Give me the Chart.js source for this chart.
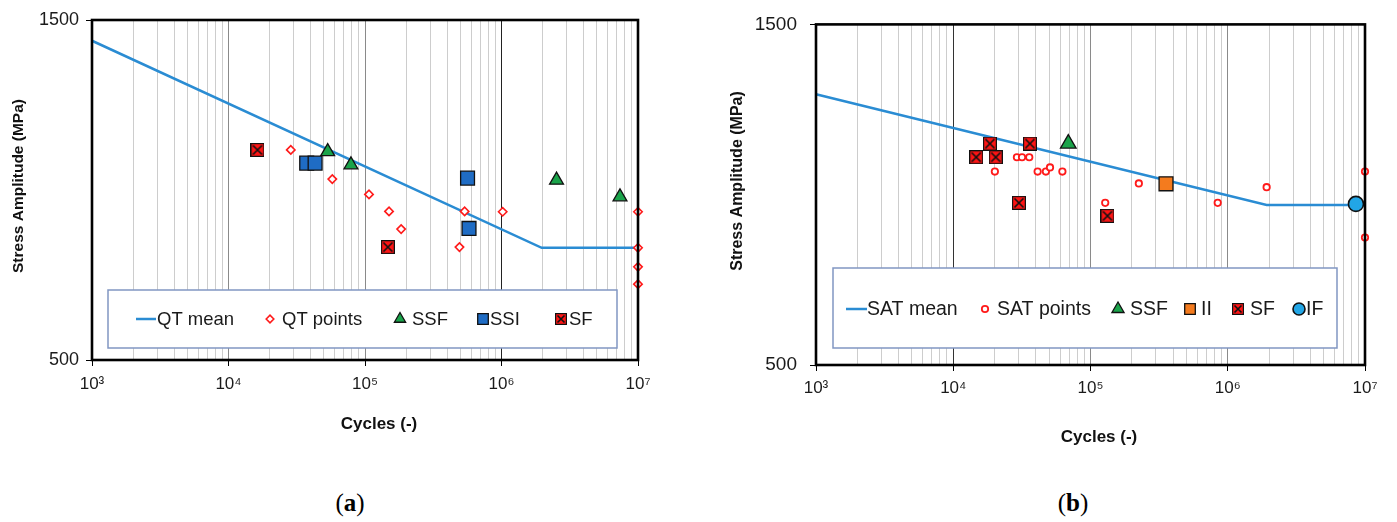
<!DOCTYPE html>
<html><head><meta charset="utf-8">
<script src="https://cdn.jsdelivr.net/npm/chart.js@4.4.1/dist/chart.umd.min.js"></script>
<style>
html,body{margin:0;padding:0;background:#fff;width:1397px;height:522px;overflow:hidden;}
#ca{position:absolute;left:0;top:0;}
#cb{position:absolute;left:700px;top:0;}
.cap{position:absolute;top:488px;font-family:"Liberation Serif","DejaVu Serif",serif;font-size:25px;color:#000;transform:translateX(-50%);line-height:30px;}
</style></head><body>
<canvas id="ca" width="700" height="470"></canvas>
<canvas id="cb" width="697" height="470"></canvas>
<div class="cap" style="left:350px">(<b>a</b>)</div>
<div class="cap" style="left:1073px">(<b>b</b>)</div>
<script>
// ---------- data ----------
const xTickLabels = ['10³', '10⁴', '10⁵', '10⁶', '10⁷'];
const yTickValues = [500, 1500];
const yTickLabels = ['500', '1500'];

// Panel (a) QT
const qtMeanN = [1000, 1970000, 10000000];
const qtMeanS = [1439, 830, 830];
const qtPointsN = [28600, 57600, 107000, 150000, 184000, 492000, 537000, 1020000, 10000000, 10000000, 10000000, 10000000];
const qtPointsS = [1118, 1032, 987, 937, 885, 832, 937, 936, 936, 830, 774, 723];
const qtSsfN = [53300, 78900, 2530000, 7380000];
const qtSsfS = [1113, 1074, 1029, 980];
const qtSsiN = [37400, 43100, 564000, 578000];
const qtSsiS = [1079, 1079, 1035, 887];
const qtSfN = [16300, 147000];
const qtSfS = [1118, 832];

// Panel (b) SAT
const satMeanN = [1000, 1920000, 10000000];
const satMeanS = [1295, 970, 970];
const satPointsN = [20100, 29100, 31700, 35800, 41200, 47300, 50700, 62400, 128000, 225000, 845000, 1920000, 10000000, 10000000];
const satPointsS = [1068, 1110, 1110, 1110, 1068, 1068, 1080, 1068, 976, 1033, 976, 1022, 1068, 874];
const satSsfN = [68900];
const satSsfS = [1150];
const satIiN = [355000];
const satIiS = [1032];
const satSfN = [18500, 36200, 14700, 20400, 30100, 133000];
const satSfS = [1150, 1150, 1110, 1110, 976, 938];
const satIfN = [8590000];
const satIfS = [973];

// ---------- helpers ----------
const pts = (xs, ys) => xs.map((x, i) => ({x: x, y: ys[i]}));
function sfImage(size) {
  const c = document.createElement('canvas');
  c.width = size; c.height = size;
  const g = c.getContext('2d');
  g.fillStyle = '#ff1414'; g.fillRect(0, 0, size, size);
  g.strokeStyle = '#111'; g.lineWidth = 1.2; g.strokeRect(0.6, 0.6, size - 1.2, size - 1.2);
  g.lineWidth = 1.6; g.beginPath();
  g.moveTo(2.5, 2.5); g.lineTo(size - 2.5, size - 2.5);
  g.moveTo(size - 2.5, 2.5); g.lineTo(2.5, size - 2.5); g.stroke();
  return c;
}
const sfBig = sfImage(14), sfSmall = sfImage(12);
const isDecade = v => Math.abs(Math.log10(v) - Math.round(Math.log10(v))) < 1e-9;
function logTicks() {
  const t = [];
  for (let e = 3; e < 7; e++) for (let m = 1; m <= 9; m++) t.push({value: m * Math.pow(10, e)});
  t.push({value: 1e7});
  return t;
}

const framePlugin = {
  id: 'frame',
  afterDatasetsDraw(chart) {
    const {ctx, chartArea: a} = chart;
    ctx.save(); ctx.strokeStyle = '#000'; ctx.lineWidth = 2.6;
    ctx.strokeRect(a.left, a.top, a.right - a.left, a.bottom - a.top);
    ctx.restore();
  }
};
const titlesPlugin = {
  id: 'titles',
  afterDraw(chart, args, o) {
    const ctx = chart.ctx;
    ctx.save(); ctx.fillStyle = '#111'; ctx.textAlign = 'center'; ctx.textBaseline = 'middle';
    ctx.font = 'bold ' + o.xSize + 'px "Liberation Sans", Arial, sans-serif';
    ctx.fillText(o.xText, o.xx, o.xy);
    ctx.font = 'bold ' + o.ySize + 'px "Liberation Sans", Arial, sans-serif';
    ctx.translate(o.yx, o.yy); ctx.rotate(-Math.PI / 2);
    ctx.fillText(o.yText, 0, 0);
    ctx.restore();
  }
};
const legendPlugin = {
  id: 'boxLegend',
  afterDraw(chart, args, o) {
    const ctx = chart.ctx;
    const [x0, y0, x1, y1] = o.box;
    ctx.save();
    ctx.fillStyle = '#fff'; ctx.fillRect(x0, y0, x1 - x0, y1 - y0);
    ctx.strokeStyle = '#8196c2'; ctx.lineWidth = 1.5; ctx.strokeRect(x0, y0, x1 - x0, y1 - y0);
    ctx.font = o.size + 'px "Liberation Sans", Arial, sans-serif';
    ctx.textBaseline = 'middle'; ctx.textAlign = 'left';
    o.items.forEach(it => {
      const ds = chart.data.datasets[it.ds];
      if (it.line) {
        ctx.strokeStyle = ds.borderColor; ctx.lineWidth = 2.5;
        ctx.beginPath(); ctx.moveTo(it.lx0, o.cy); ctx.lineTo(it.lx1, o.cy); ctx.stroke();
      } else {
        ctx.fillStyle = ds.pointBackgroundColor; ctx.strokeStyle = ds.pointBorderColor;
        ctx.lineWidth = ds.pointBorderWidth;
        Chart.helpers.drawPoint(ctx, {pointStyle: it.style || ds.pointStyle, radius: it.r, borderWidth: ds.pointBorderWidth, rotation: 0}, it.mx, o.cy);
      }
      ctx.fillStyle = '#1a1a1a';
      ctx.fillText(ds.label, it.tx, o.cy + 1);
    });
    ctx.restore();
  }
};

function xScale(h, pad, majorColors) {
  return {
    type: 'logarithmic', min: 1000, max: 1e7, position: 'bottom',
    afterBuildTicks: s => { s.ticks = logTicks(); },
    afterFit: s => { s.height = h; },
    ticks: {
      autoSkip: false, maxRotation: 0, padding: pad, color: '#1a1a1a',
      font: {family: '"Liberation Sans", Arial, sans-serif', size: 17},
      callback: v => isDecade(v) ? xTickLabels[Math.round(Math.log10(v)) - 3] : ''
    },
    grid: {
      drawOnChartArea: true, lineWidth: 1, tickLength: 6,
      color: c => isDecade(c.tick.value) ? (majorColors[Math.round(Math.log10(c.tick.value))] || '#666') : '#cdcdcd',
      tickColor: c => isDecade(c.tick.value) ? '#000' : 'rgba(0,0,0,0)'
    },
    border: {display: false}
  };
}
function yScale(w, pad, size) {
  return {
    type: 'linear', min: 500, max: 1500,
    afterBuildTicks: s => { s.ticks = yTickValues.map(v => ({value: v})); },
    afterFit: s => { s.width = w; },
    ticks: {padding: pad, color: '#1a1a1a', font: {family: '"Liberation Sans", Arial, sans-serif', size: size},
      callback: v => yTickLabels[yTickValues.indexOf(v)]},
    grid: {drawOnChartArea: false, color: '#000', tickLength: 6},
    border: {display: false}
  };
}
const mk = (label, data, style, r, bg, bc, bw) => ({
  label: label, data: data, pointStyle: style, pointRadius: r, pointHoverRadius: r,
  pointBackgroundColor: bg, pointBorderColor: bc, pointBorderWidth: bw, showLine: false, clip: false, order: 0
});
const meanLine = (label, data) => ({
  label: label, data: data, showLine: true, borderColor: '#2a8cd3', borderWidth: 2.5,
  pointRadius: 0, pointHoverRadius: 0, tension: 0, clip: false, order: 5,
  pointBackgroundColor: '#2a8cd3', pointBorderColor: '#2a8cd3', pointBorderWidth: 0
});
const common = {responsive: false, animation: false, events: []};

// ---------- chart (a) ----------
new Chart(document.getElementById('ca'), {
  type: 'scatter',
  data: {datasets: [
    meanLine('QT mean', pts(qtMeanN, qtMeanS)),
    mk('QT points', pts(qtPointsN, qtPointsS), 'rectRot', 4.2, '#fff', '#ff1a1a', 1.6),
    mk('SSF', pts(qtSsfN, qtSsfS), 'triangle', 8, '#1aa34a', '#111', 1.3),
    mk('SSI', pts(qtSsiN, qtSsiS), 'rect', 9.8, '#1f6cc4', '#111', 1.3),
    mk('SF', pts(qtSfN, qtSfS), sfBig, 7, '#ff1414', '#111', 1.2)
  ]},
  options: Object.assign({}, common, {
    layout: {padding: {left: 0, right: 62, top: 20, bottom: 0}},
    scales: {x: xScale(110, 8, {4: '#8a8a8a', 5: '#8a8a8a', 6: '#222'}), y: yScale(92, 7, 18)},
    plugins: {
      legend: {display: false}, tooltip: {enabled: false},
      titles: {xText: 'Cycles (-)', xx: 379, xy: 424, xSize: 17, yText: 'Stress Amplitude (MPa)', yx: 19, yy: 186, ySize: 15.5},
      boxLegend: {box: [108, 290, 617, 348], cy: 319, size: 18.5, items: [
        {ds: 0, line: true, lx0: 136, lx1: 156, tx: 157},
        {ds: 1, mx: 270, r: 3.8, tx: 282},
        {ds: 2, mx: 400, r: 6.5, tx: 412},
        {ds: 3, mx: 483, r: 7.5, tx: 490},
        {ds: 4, mx: 561, r: 6, style: sfSmall, tx: 569}
      ]}
    }
  }),
  plugins: [framePlugin, legendPlugin, titlesPlugin]
});

// ---------- chart (b) ----------
new Chart(document.getElementById('cb'), {
  type: 'scatter',
  data: {datasets: [
    meanLine('SAT mean', pts(satMeanN, satMeanS)),
    mk('SAT points', pts(satPointsN, satPointsS), 'circle', 3.2, '#fff', '#ff1a1a', 1.8),
    mk('SSF', pts(satSsfN, satSsfS), 'triangle', 9, '#1aa34a', '#111', 1.3),
    mk('II', pts(satIiN, satIiS), 'rect', 9.8, '#f47b1e', '#111', 1.3),
    mk('SF', pts(satSfN, satSfS), sfBig, 7, '#ff1414', '#111', 1.2),
    mk('IF', pts(satIfN, satIfS), 'circle', 7.5, '#22a6e6', '#111', 1.6)
  ]},
  options: Object.assign({}, common, {
    layout: {padding: {left: 0, right: 32, top: 16, bottom: 0}},
    scales: {x: xScale(105, 7, {4: '#333', 5: '#8a8a8a', 6: '#8a8a8a'}), y: yScale(116, 13, 19)},
    plugins: {
      legend: {display: false}, tooltip: {enabled: false},
      titles: {xText: 'Cycles (-)', xx: 399, xy: 437, xSize: 17, yText: 'Stress Amplitude (MPa)', yx: 38, yy: 181, ySize: 16},
      boxLegend: {box: [133, 268, 637, 348], cy: 309, size: 19.5, items: [
        {ds: 0, line: true, lx0: 146, lx1: 167, tx: 167},
        {ds: 1, mx: 285, r: 3.2, tx: 297},
        {ds: 2, mx: 418, r: 7, tx: 430},
        {ds: 3, mx: 490, r: 7.5, tx: 501},
        {ds: 4, mx: 538, r: 6, style: sfSmall, tx: 550},
        {ds: 5, mx: 599, r: 6, tx: 606}
      ]}
    }
  }),
  plugins: [framePlugin, legendPlugin, titlesPlugin]
});
</script>
</body></html>
